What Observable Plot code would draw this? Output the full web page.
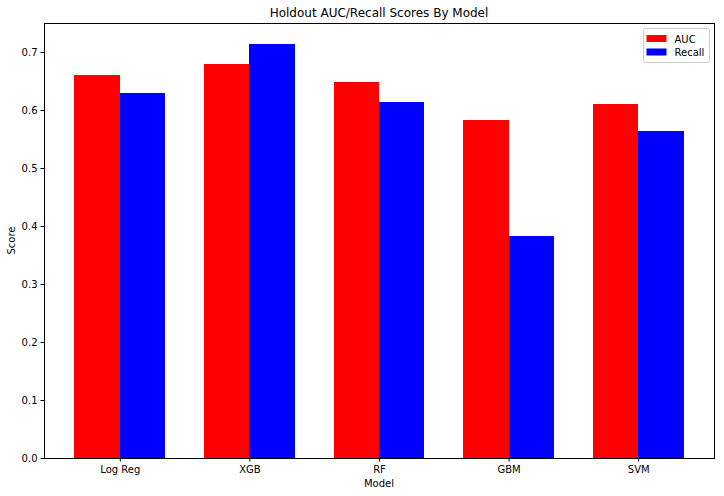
<!DOCTYPE html>
<html>
<head>
<meta charset="utf-8">
<script src="https://cdn.jsdelivr.net/npm/d3@7"></script>
<script src="https://cdn.jsdelivr.net/npm/@observablehq/plot@0.6"></script>
<style>
  html, body { margin: 0; padding: 0; background: #fff; }
  #chart svg { display: block; }
</style>
</head>
<body>
<div id="chart"></div>
<script>
const models = ["Log Reg", "XGB", "RF", "GBM", "SVM"];
const aucValues = [0.661, 0.680, 0.649, 0.583, 0.611];
const recallValues = [0.630, 0.714, 0.614, 0.382, 0.564];
const seriesNames = ["AUC", "Recall"];
const seriesColors = ["#ff0000", "#0000ff"];
const yTicks = [0, 0.1, 0.2, 0.3, 0.4, 0.5, 0.6, 0.7];

const barWidth = 0.35;
const rows = [];
models.forEach((m, i) => {
  rows.push({model: m, i, series: "AUC", x1: i - barWidth, x2: i, value: aucValues[i]});
  rows.push({model: m, i, series: "Recall", x1: i, x2: i + barWidth, value: recallValues[i]});
});

const font = "DejaVu Sans, sans-serif";
const W = 724, H = 496;
const mL = 44, mR = 10, mT = 23, mB = 38;

const plot = Plot.plot({
  width: W,
  height: H,
  marginLeft: mL,
  marginRight: mR,
  marginTop: mT,
  marginBottom: mB,
  style: {fontFamily: font, fontSize: "10px", color: "#000", background: "#fff"},
  x: {domain: [-0.585, 4.585], label: null},
  y: {domain: [0, 0.75], label: null},
  color: {domain: seriesNames, range: seriesColors},
  marks: [
    Plot.rectY(rows, {x1: "x1", x2: "x2", y1: 0, y2: "value", fill: "series", inset: 0, shapeRendering: "crispEdges"}),
    Plot.axisY({ticks: yTicks, tickFormat: d3.format(".1f"), tickSize: 3.5, tickPadding: 3.5, label: null, stroke: "#000", color: "#000"}),
    Plot.axisX({ticks: d3.range(models.length), tickFormat: i => models[i], tickSize: 3.5, tickPadding: 3.5, label: null, stroke: "#000", color: "#000"}),
    Plot.frame({stroke: "#000", strokeWidth: 1})
  ]
});

document.getElementById("chart").appendChild(plot);

const svg = d3.select(plot);
const plotCenter = mL + (W - mL - mR) / 2;
svg.append("text")
  .attr("x", plotCenter).attr("y", 17)
  .attr("text-anchor", "middle")
  .attr("font-family", font).attr("font-size", 12).attr("fill", "#000")
  .text("Holdout AUC/Recall Scores By Model");
svg.append("text")
  .attr("x", plotCenter).attr("y", 487)
  .attr("text-anchor", "middle")
  .attr("font-family", font).attr("font-size", 10).attr("fill", "#000")
  .text("Model");
svg.append("text")
  .attr("transform", `translate(15,${mT + (H - mT - mB) / 2}) rotate(-90)`)
  .attr("text-anchor", "middle")
  .attr("font-family", font).attr("font-size", 10).attr("fill", "#000")
  .text("Score");

// legend
const lg = svg.append("g").attr("transform", "translate(643,28)");
lg.append("rect").attr("x", 0.5).attr("y", 0.5).attr("width", 66).attr("height", 34)
  .attr("rx", 2).attr("fill", "#fff").attr("stroke", "#cccccc").attr("stroke-width", 1);
seriesNames.forEach((s, k) => {
  lg.append("rect").attr("x", 3.5).attr("y", 7 + k * 13.5).attr("width", 20).attr("height", 7)
    .attr("fill", seriesColors[k]);
  lg.append("text").attr("x", 31.5).attr("y", 14.5 + k * 13.5)
    .attr("text-anchor", "start")
    .attr("font-family", font).attr("font-size", 10).attr("fill", "#000")
    .text(s);
});
</script>
</body>
</html>
